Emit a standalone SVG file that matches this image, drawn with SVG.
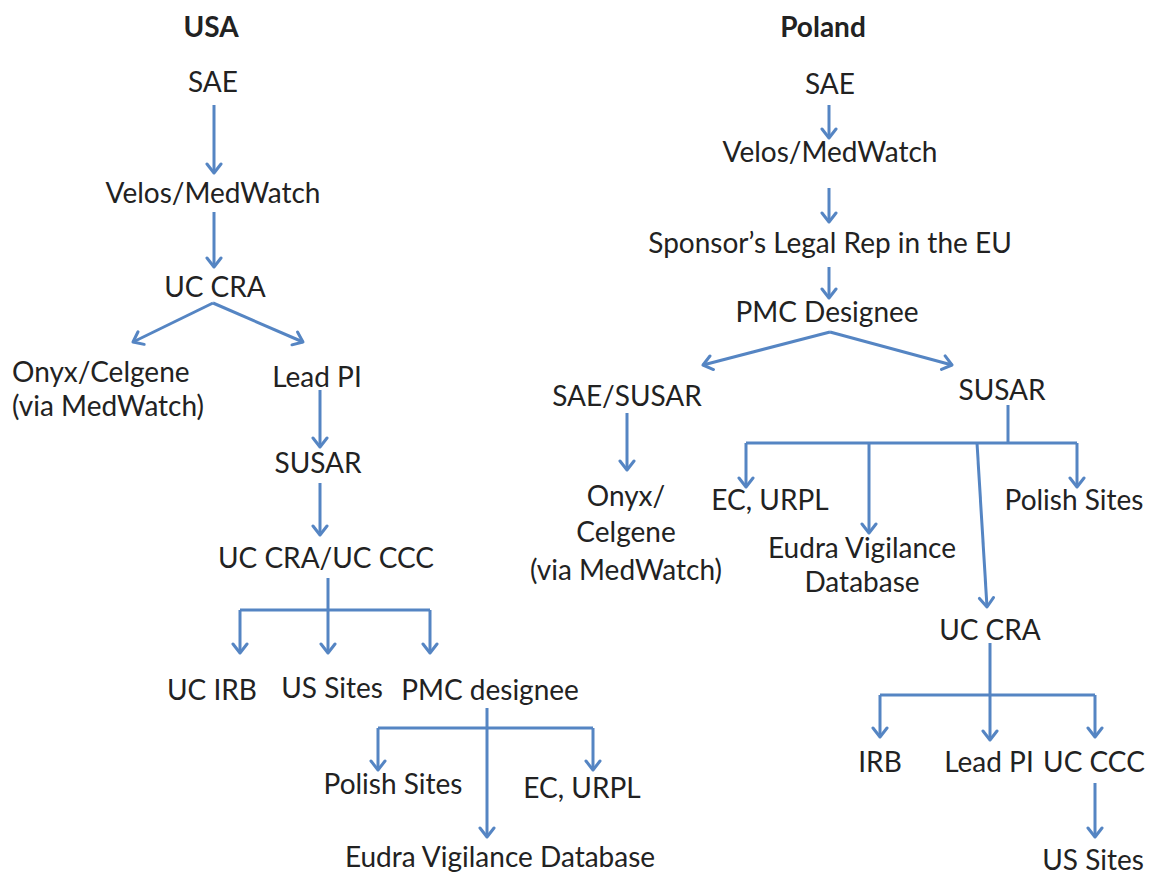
<svg xmlns="http://www.w3.org/2000/svg" width="1149" height="876" viewBox="0 0 1149 876">
<style>
  text { font-family: Lato, "Open Sans", "Liberation Sans", sans-serif; font-size: 28px; fill: #222; text-anchor: middle; }
  .h { font-weight: bold; }
  .l { text-anchor: start; }
  .c { fill: none; stroke: #5585c3; stroke-width: 3; }
  .a { marker-end: url(#arr); }
</style>
<defs>
  <marker id="arr" markerUnits="userSpaceOnUse" markerWidth="14" markerHeight="18" refX="11" refY="9" orient="auto" viewBox="0 0 14 18">
    <path d="M2,2 L11,9 L2,16" fill="none" stroke="#5585c3" stroke-width="3" stroke-linejoin="round" stroke-linecap="round"/>
  </marker>
</defs>
<rect width="1149" height="876" fill="#fff"/>

<g id="connectors">
  <!-- USA -->
  <path class="c a" d="M214,105 L214,173"/>
  <path class="c a" d="M214,212 L214,267"/>
  <path class="c a" d="M213,303 L133,342"/>
  <path class="c a" d="M213,303 L303,342"/>
  <path class="c a" d="M320,390 L320,447"/>
  <path class="c a" d="M320,483 L320,535"/>
  <path class="c" d="M328,578 L328,610"/>
  <path class="c" d="M240,610 L430,610"/>
  <path class="c a" d="M240,610 L240,653"/>
  <path class="c a" d="M328,610 L328,653"/>
  <path class="c a" d="M430,610 L430,653"/>
  <path class="c a" d="M487,708 L487,837"/>
  <path class="c" d="M378,728 L593,728"/>
  <path class="c a" d="M378,728 L378,770"/>
  <path class="c a" d="M593,728 L593,770"/>
  <!-- Poland -->
  <path class="c a" d="M829,105 L829,138"/>
  <path class="c a" d="M829,188 L829,222"/>
  <path class="c a" d="M829,267 L829,298"/>
  <path class="c a" d="M830,332 L703,365"/>
  <path class="c a" d="M830,332 L952,365"/>
  <path class="c a" d="M627,413 L627,470"/>
  <path class="c" d="M1008,405 L1008,443"/>
  <path class="c" d="M746,443 L1077,443"/>
  <path class="c a" d="M746,443 L746,487"/>
  <path class="c a" d="M869,443 L869,533"/>
  <path class="c a" d="M977,443 L987,607"/>
  <path class="c a" d="M1077,443 L1077,487"/>
  <path class="c a" d="M990,643 L990,740"/>
  <path class="c" d="M880,695 L1095,695"/>
  <path class="c a" d="M880,695 L880,737"/>
  <path class="c a" d="M1095,695 L1095,737"/>
  <path class="c a" d="M1095,783 L1095,837"/>
</g>

<g id="usa-title"><text class="h" x="211" y="37">USA</text></g>
<g id="usa-sae"><text x="213" y="92">SAE</text></g>
<g id="usa-velos"><text x="213" y="203">Velos/MedWatch</text></g>
<g id="usa-uccra"><text x="215" y="297">UC CRA</text></g>
<g id="usa-onyx"><text class="l" x="12" y="382">Onyx/Celgene</text><text class="l" x="12" y="416">(via MedWatch)</text></g>
<g id="usa-leadpi"><text x="317" y="387">Lead PI</text></g>
<g id="usa-susar"><text x="318" y="473">SUSAR</text></g>
<g id="usa-uccra-ccc"><text x="326" y="568">UC CRA/UC CCC</text></g>
<g id="usa-ucirb"><text x="212" y="700">UC IRB</text></g>
<g id="usa-ussites"><text x="332" y="698">US Sites</text></g>
<g id="usa-pmc"><text x="490" y="700">PMC designee</text></g>
<g id="usa-polish"><text x="393" y="794">Polish Sites</text></g>
<g id="usa-ecurpl"><text x="582" y="798">EC, URPL</text></g>
<g id="usa-eudra"><text x="500" y="867">Eudra Vigilance Database</text></g>

<g id="pl-title"><text class="h" x="823" y="37">Poland</text></g>
<g id="pl-sae"><text x="830" y="94">SAE</text></g>
<g id="pl-velos"><text x="830" y="162">Velos/MedWatch</text></g>
<g id="pl-sponsor"><text x="830" y="253">Sponsor’s Legal Rep in the EU</text></g>
<g id="pl-pmc"><text x="827" y="322">PMC Designee</text></g>
<g id="pl-saesusar"><text x="627" y="406">SAE/SUSAR</text></g>
<g id="pl-onyx"><text x="626" y="506">Onyx/</text><text x="626" y="542">Celgene</text><text x="626" y="580">(via MedWatch)</text></g>
<g id="pl-susar"><text x="1002" y="400">SUSAR</text></g>
<g id="pl-ecurpl"><text x="770" y="510">EC, URPL</text></g>
<g id="pl-eudra"><text x="862" y="558">Eudra Vigilance</text><text x="862" y="592">Database</text></g>
<g id="pl-polish"><text x="1074" y="510">Polish Sites</text></g>
<g id="pl-uccra"><text x="990" y="640">UC CRA</text></g>
<g id="pl-irb"><text x="880" y="772">IRB</text></g>
<g id="pl-leadpi"><text x="989" y="772">Lead PI</text></g>
<g id="pl-ucccc"><text x="1094" y="772">UC CCC</text></g>
<g id="pl-ussites"><text x="1093" y="870">US Sites</text></g>
</svg>
